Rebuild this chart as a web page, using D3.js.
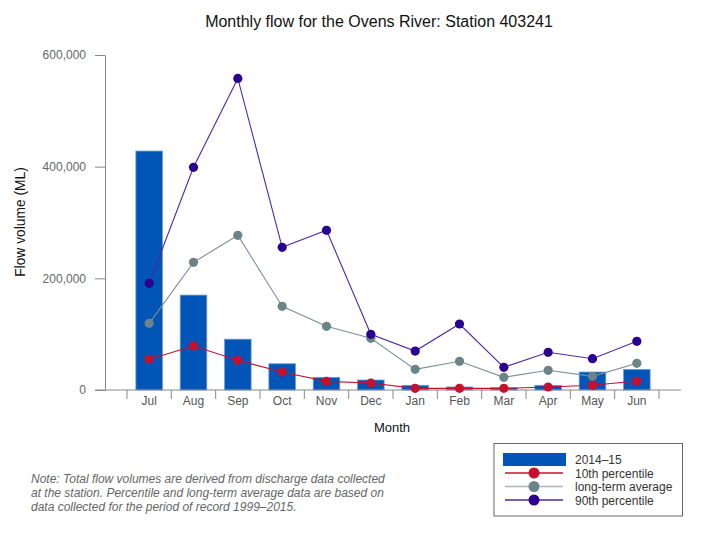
<!DOCTYPE html>
<html>
<head>
<meta charset="utf-8">
<script src="https://cdn.jsdelivr.net/npm/d3@7"></script>
<style>
  body { margin: 0; background: #fff; }
  text { font-family: "Liberation Sans", Arial, sans-serif; }
</style>
</head>
<body>
<script>
var months = ["Jul","Aug","Sep","Oct","Nov","Dec","Jan","Feb","Mar","Apr","May","Jun"];
var flow2014 = [428000,170000,91000,47000,22700,17900,8400,5400,4100,8400,32200,37000];
var pct10 = [55000,78800,53200,32200,15500,12500,3000,3000,3000,5400,8400,16100];
var longAvg = [119400,228700,277000,149900,114000,92600,37000,51400,22700,35300,24500,47800];
var pct90 = [191000,398800,558000,255500,286000,99700,69800,118200,40600,67500,56100,87200];
var yTicks = [0,200000,400000,600000];

var svg = d3.select("body").append("svg").attr("width",704).attr("height",535);

var x = d3.scaleBand().domain(months).range([127,659]).padding(0);
var y = d3.scaleLinear().domain([0,600000]).range([390,55]);

// title
svg.append("text").text("Monthly flow for the Ovens River: Station 403241")
      .attr("x",379).attr("y",27)
      .attr("text-anchor","middle")
      .attr("font-size","16px")
      .attr("fill","#111");

// y axis
var yAxis = svg.append("g").attr("transform","translate(105,0)")
      .call(d3.axisLeft(y).tickValues(yTicks).tickFormat(d3.format(",")).tickSize(10).tickSizeOuter(0).tickPadding(9));
yAxis.select(".domain").attr("stroke","#888");
yAxis.selectAll(".tick line").attr("stroke","#888");
yAxis.selectAll(".tick text").attr("fill","#666").attr("font-size","12px")
      .attr("font-family","Liberation Sans, Arial, sans-serif");

svg.append("text").text("Flow volume (ML)")
      .attr("transform","translate(25,222) rotate(-90)")
      .attr("text-anchor","middle")
      .attr("font-size","13.8px")
      .attr("fill","#111");

// bars
svg.selectAll("rect.bar")
      .data(flow2014)
      .enter().append("rect")
            .attr("class","bar")
            .attr("x",function(d,i){ return x(months[i]) + x.bandwidth()*0.2; })
            .attr("width",x.bandwidth()*0.6)
            .attr("y",function(d){ return y(d); })
            .attr("height",function(d){ return y(0)-y(d); })
            .attr("fill","#0055b7")
            .attr("stroke","#6d9fd8")
            .attr("stroke-width","0.8");

// x axis
svg.append("line")
      .attr("x1",95).attr("x2",681)
      .attr("y1",y(0)).attr("y2",y(0))
      .attr("stroke","#888");
var bounds = months.map(function(m){ return x(m); }).concat([x.range()[1]]);
svg.selectAll("line.xtick")
      .data(bounds)
      .enter().append("line")
            .attr("class","xtick")
            .attr("x1",function(d){ return d; })
            .attr("x2",function(d){ return d; })
            .attr("y1",y(0)).attr("y2",y(0)+9)
            .attr("stroke","#888");
svg.selectAll("text.xlab")
      .data(months)
      .enter().append("text")
            .attr("class","xlab")
            .text(function(d){ return d; })
            .attr("x",function(d){ return x(d)+x.bandwidth()/2; })
            .attr("y",405)
            .attr("text-anchor","middle")
            .attr("font-size","12px")
            .attr("fill","#555");

svg.append("text").text("Month")
      .attr("x",392).attr("y",432)
      .attr("text-anchor","middle")
      .attr("font-size","13px")
      .attr("fill","#111");

// lines + markers
var series = [
  {vals: pct10, line: "#c8102e", dot: "#c8102e"},
  {vals: longAvg, line: "#7d9097", dot: "#6c8389"},
  {vals: pct90, line: "#4b2aa8", dot: "#2a0090"}
];
var lineGen = d3.line()
      .x(function(d,i){ return x(months[i])+x.bandwidth()/2; })
      .y(function(d){ return y(d); });

series.forEach(function(s,k){
  svg.append("path").datum(s.vals)
        .attr("d",lineGen)
        .attr("fill","none")
        .attr("stroke",s.line)
        .attr("stroke-width","1.1");
  svg.selectAll("circle.s"+k)
        .data(s.vals)
        .enter().append("circle")
              .attr("class","s"+k)
              .attr("cx",function(d,i){ return x(months[i])+x.bandwidth()/2; })
              .attr("cy",function(d){ return y(d); })
              .attr("r",4.6)
              .attr("fill",s.dot);
});

// note
var note = ["Note: Total flow volumes are derived from discharge data collected",
            "at the station. Percentile and long-term average data are based on",
            "data collected for the period of record 1999\u20132015."];
svg.selectAll("text.note")
      .data(note)
      .enter().append("text")
            .attr("class","note")
            .text(function(d){ return d; })
            .attr("x",31)
            .attr("y",function(d,i){ return 483+i*14; })
            .attr("font-size","12px")
            .attr("font-style","italic")
            .attr("fill","#666");

// legend
var legend = svg.append("g");
legend.append("rect")
      .attr("x",494).attr("y",443.5)
      .attr("width",188.5).attr("height",72.5)
      .attr("fill","#fff")
      .attr("stroke","#666");
legend.append("rect")
      .attr("x",503).attr("y",453)
      .attr("width",63).attr("height",13)
      .attr("fill","#0055b7");
var legItems = [
  {label: "10th percentile", line: "#c8102e", dot: "#c8102e"},
  {label: "long-term average", line: "#a9b9bd", dot: "#6c8389"},
  {label: "90th percentile", line: "#4b2aa8", dot: "#2a0090"}
];
legItems.forEach(function(it,i){
  var cy = 473 + i*13.5;
  legend.append("line")
        .attr("x1",505).attr("x2",563)
        .attr("y1",cy).attr("y2",cy)
        .attr("stroke",it.line)
        .attr("stroke-width",1.3);
  legend.append("circle")
        .attr("cx",534).attr("cy",cy)
        .attr("r",5.5)
        .attr("fill",it.dot);
});
var legLabels = ["2014\u201315"].concat(legItems.map(function(d){ return d.label; }));
legend.selectAll("text")
      .data(legLabels)
      .enter().append("text")
            .text(function(d){ return d; })
            .attr("x",575)
            .attr("y",function(d,i){ return 464 + i*13.5; })
            .attr("font-size","12px")
            .attr("fill","#333");
</script>
</body>
</html>
